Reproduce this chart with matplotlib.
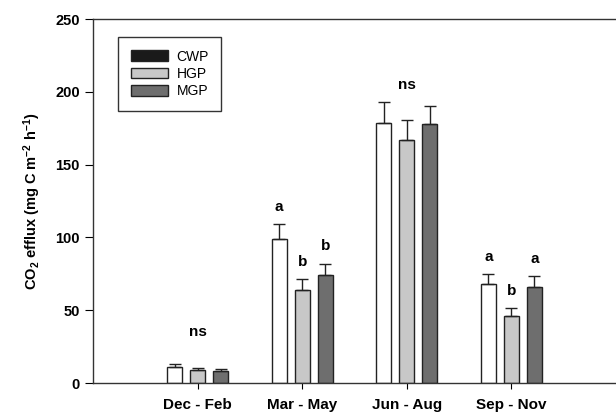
import numpy as np
import matplotlib
matplotlib.use("Agg")
import matplotlib.pyplot as plt
from matplotlib.patches import Patch

plt.rcParams['font.family'] = ['Liberation Sans', 'DejaVu Sans']
plt.rcParams['mathtext.default'] = 'regular'

seasons = ["Dec - Feb", "Mar - May", "Jun - Aug", "Sep - Nov"]
treatments = ["CWP", "HGP", "MGP"]

# mean efflux and standard error per season
cwp = [11, 99, 179, 68]
hgp = [9, 64, 167, 46]
mgp = [8, 74, 178, 66]
cwp_err = [2, 10, 14, 7]
hgp_err = [1.5, 7.5, 14, 5.5]
mgp_err = [1.5, 8, 12.5, 7.5]

letters = [None, ["a", "b", "b"], None, ["a", "b", "a"]]
ns_height = [35, None, 205, None]

fig, ax = plt.subplots(figsize=(6.16, 4.17), dpi=100)
fig.subplots_adjust(left=0.151, right=1.0, top=0.954, bottom=0.0815)

x = np.arange(1, len(seasons) + 1)
w = 0.143
off = 0.22
fills = ["white", "#c8c8c8", "#6e6e6e"]
means = [cwp, hgp, mgp]
errs = [cwp_err, hgp_err, mgp_err]

for i, (m, e, c) in enumerate(zip(means, errs, fills)):
    xi = x + (i - 1) * off
    ax.bar(xi, m, w, color=c, edgecolor="#222222", linewidth=1, zorder=2)
    ax.errorbar(xi, m, yerr=[np.zeros(len(e)), e], fmt="none", ecolor="#222222",
                elinewidth=1, capsize=4, capthick=1, zorder=3)

for g in range(len(seasons)):
    if letters[g] is not None:
        for i in range(3):
            top = means[i][g] + errs[i][g]
            ax.text(x[g] + (i - 1) * off, top + 7, letters[g][i], ha="center",
                    va="bottom", fontsize=11, fontweight="bold")
    else:
        ax.text(x[g], ns_height[g], "ns", ha="center", va="center",
                fontsize=11, fontweight="bold")

# legend with black swatch for CWP as in the original
handles = [Patch(facecolor="#1a1a1a", edgecolor="#222222", label="CWP"),
           Patch(facecolor="#c8c8c8", edgecolor="#222222", label="HGP"),
           Patch(facecolor="#6e6e6e", edgecolor="#222222", label="MGP")]
leg = ax.legend(handles=handles, loc="upper left", bbox_to_anchor=(0.035, 0.97),
                fancybox=False, edgecolor="black", fontsize=10,
                handlelength=2.7, handleheight=0.8, labelspacing=0.25,
                borderpad=0.9, handletextpad=0.6)
leg.get_frame().set_linewidth(1)

ax.set_xlim(0, 5)
ax.set_ylim(0, 250)
ax.set_xticks(x)
ax.set_xticklabels(seasons, fontsize=11, fontweight="bold")
ax.set_yticks(np.arange(0, 251, 50))
ax.tick_params(axis="y", labelsize=10.5, length=6, direction="out")
ax.tick_params(axis="x", length=4, direction="out", pad=7)
for lab in ax.get_yticklabels():
    lab.set_fontweight("bold")
ax.set_ylabel("CO$_2$ efflux (mg C m$^{-2}$ h$^{-1}$)", fontsize=10.5,
              fontweight="bold", labelpad=9)
ax.spines["right"].set_visible(False)
for s in ["left", "bottom", "top"]:
    ax.spines[s].set_linewidth(1)
    ax.spines[s].set_color("#333333")

fig.savefig("out.png", dpi=100)
